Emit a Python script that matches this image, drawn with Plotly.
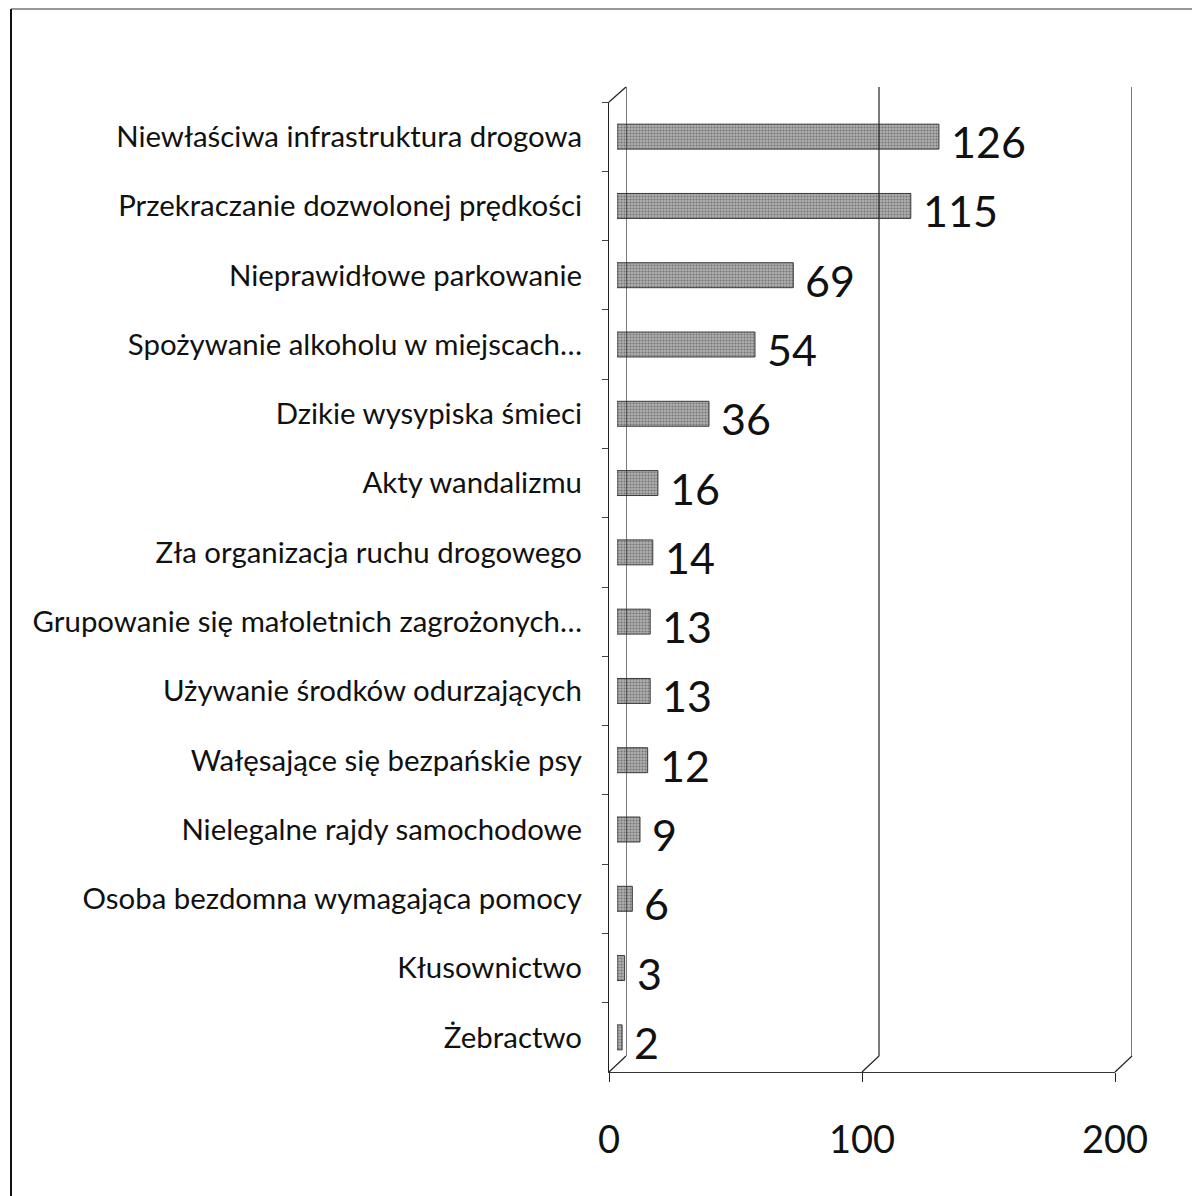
import plotly.graph_objects as go

categories = [
    "Niewłaściwa infrastruktura drogowa",
    "Przekraczanie dozwolonej prędkości",
    "Nieprawidłowe parkowanie",
    "Spożywanie alkoholu w miejscach…",
    "Dzikie wysypiska śmieci",
    "Akty wandalizmu",
    "Zła organizacja ruchu drogowego",
    "Grupowanie się małoletnich zagrożonych…",
    "Używanie środków odurzających",
    "Wałęsające się bezpańskie psy",
    "Nielegalne rajdy samochodowe",
    "Osoba bezdomna wymagająca pomocy",
    "Kłusownictwo",
    "Żebractwo",
]
values = [126, 115, 69, 54, 36, 16, 14, 13, 13, 12, 9, 6, 3, 2]
x_ticks = [0, 100, 200]

OFF = 8  # page body margin in the browser
W, H = 1200 - OFF, 1196 - OFF
# pixel geometry of the pseudo-3D frame (page pixels)
FX0, FX1 = 609, 1115      # front plane x for 0 and 200
BX0, BX1 = 626, 1132      # back plane
FY_TOP, FY_BOT = 102, 1072
BY_TOP, BY_BOT = 87, 1056
MX0, MX1 = 617, 1128      # bar plane

def px(x):
    return (x - OFF) / W

def py(y):
    return 1 - (y - OFF) / H

font = "Lato, 'Open Sans', sans-serif"
n = len(categories)

fig = go.Figure()

# invisible traces to realise the front and back-wall subplots
fig.add_trace(go.Scatter(x=[0], y=[categories[0]], xaxis="x", yaxis="y", mode="markers",
                         marker=dict(opacity=0, size=1), showlegend=False, hoverinfo="skip"))
fig.add_trace(go.Scatter(x=[0], y=[0], xaxis="x3", yaxis="y3", mode="markers",
                         marker=dict(opacity=0, size=1), showlegend=False, hoverinfo="skip"))

fig.add_trace(go.Bar(
    y=categories, x=values, orientation="h",
    xaxis="x2", yaxis="y",
    width=0.36,
    marker=dict(color="#9a9a9a",
                line=dict(color="#3a3a3a", width=1),
                pattern=dict(shape=".", fgcolor="#3a3a3a", bgcolor="#b0b0b0",
                             size=3, solidity=0.4)),
    showlegend=False,
))

# value labels, placed from the data through the bar axes
annotations = [
    dict(xref="x2", yref="y", x=v, y=c, text=str(v), showarrow=False,
         xanchor="left", yanchor="middle", xshift=10, yshift=-5,
         font=dict(family=font, size=43, color="#111"))
    for c, v in zip(categories, values)
]

shapes = []
for v in x_ticks:
    # back-wall vertical line
    shapes.append(dict(type="line", xref="x3", yref="y3",
                       x0=v, y0=0, x1=v, y1=1,
                       line=dict(color="#222", width=1.2)))
    # floor diagonal from front tick to back wall
    fxp = FX0 + (FX1 - FX0) * v / 200
    bxp = BX0 + (BX1 - BX0) * v / 200
    shapes.append(dict(type="line", xref="paper", yref="paper",
                       x0=px(fxp), y0=py(FY_BOT), x1=px(bxp), y1=py(BY_BOT),
                       line=dict(color="#222", width=1.2)))
# top-left diagonal
shapes.append(dict(type="line", xref="paper", yref="paper",
                   x0=px(FX0), y0=py(FY_TOP), x1=px(BX0), y1=py(BY_TOP),
                   line=dict(color="#222", width=1.2)))
# outer border (left and top)
shapes.append(dict(type="line", xref="paper", yref="paper",
                   x0=px(11), y0=py(9), x1=px(11), y1=0,
                   line=dict(color="#111", width=2)))
shapes.append(dict(type="line", xref="paper", yref="paper",
                   x0=px(11), y0=py(9), x1=1, y1=py(9),
                   line=dict(color="#333", width=1.2)))

fig.update_layout(
    width=W, height=H,
    autosize=False,
    margin=dict(l=0, r=0, t=0, b=0),
    paper_bgcolor="white", plot_bgcolor="rgba(0,0,0,0)",
    font=dict(family=font, color="#111"),
    shapes=shapes,
    annotations=annotations,
    xaxis=dict(domain=[px(FX0), px(FX1)], range=[0, 200], anchor="y",
               tickvals=x_ticks, ticktext=[str(t) for t in x_ticks],
               tickfont=dict(size=38, family=font, color="#111"),
               ticks="outside", ticklen=9, tickcolor="#222", tickwidth=1.2,
               showline=True, linecolor="#333", linewidth=1,
               showgrid=False, zeroline=False, ticklabelstandoff=25,
               automargin=False),
    xaxis2=dict(domain=[px(MX0), px(MX1)], range=[0, 200], anchor="y",
                visible=False),
    xaxis3=dict(domain=[px(BX0), px(BX1)], range=[0, 200], anchor="y3",
                visible=False),
    yaxis=dict(domain=[py(FY_BOT), py(FY_TOP)], anchor="x",
               type="category", categoryorder="array", categoryarray=categories,
               range=[n - 0.5, -0.5], autorange=False,
               tickfont=dict(size=29.4, family=font, color="#111"),
               ticks="outside", ticklen=6, tickcolor="#444", tickson="boundaries",
               showline=True, linecolor="#222", linewidth=1.2,
               showgrid=False, zeroline=False, ticklabelstandoff=20,
               automargin=False),
    yaxis3=dict(domain=[py(BY_BOT), py(BY_TOP)], anchor="x3", range=[0, 1],
                visible=False),
)

fig.write_html("out.html")
